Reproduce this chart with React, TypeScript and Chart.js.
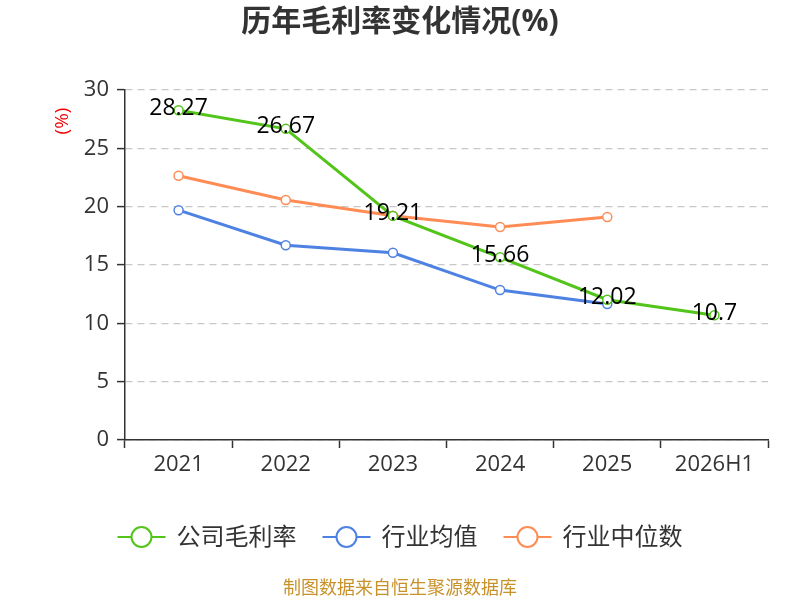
import React, { useEffect, useRef } from 'react';
import { Chart, registerables } from 'chart.js';

Chart.register(...registerables);

const categories = ['2021', '2022', '2023', '2024', '2025', '2026H1'];
const companyMargin = [28.27, 26.67, 19.21, 15.66, 12.02, 10.7];
const industryAvg = [19.7, 16.7, 16.05, 12.85, 11.65, null];
const industryMedian = [22.65, 20.57, 19.23, 18.25, 19.11, null];
const seriesNames = ['公司毛利率', '行业均值', '行业中位数'];
const yTicks = [0, 5, 10, 15, 20, 25, 30];

const FONT = '"Open Sans", "Noto Sans CJK SC", sans-serif';
const GREEN = '#52c41a';
const BLUE = '#4e82e2';
const ORANGE = '#ff8c55';

// 数值标签，只给公司毛利率
const labelPlugin = {
  id: 'valueLabels',
  afterDatasetsDraw(chart: Chart) {
    const ctx = chart.ctx;
    const meta = chart.getDatasetMeta(0);
    ctx.save();
    ctx.font = `23px ${FONT}`;
    ctx.fillStyle = '#000';
    ctx.textAlign = 'center';
    ctx.textBaseline = 'middle';
    meta.data.forEach((pt: any, i: number) => {
      const v = companyMargin[i];
      if (v == null) return;
      ctx.fillText(String(v), pt.x, pt.y - 2);
    });
    ctx.restore();
  },
};

// 标题、单位、图例、来源
const decorPlugin = {
  id: 'decor',
  afterDraw(chart: Chart) {
    const ctx = chart.ctx;
    ctx.save();
    ctx.fillStyle = '#333';
    ctx.font = `bold 30px ${FONT}`;
    ctx.textAlign = 'center';
    ctx.textBaseline = 'middle';
    ctx.fillText('历年毛利率变化情况(%)', 400, 22);

    ctx.save();
    ctx.translate(63, 121);
    ctx.rotate(-Math.PI / 2);
    ctx.fillStyle = '#e00';
    ctx.font = `19px ${FONT}`;
    ctx.fillText('(%)', 0, 0);
    ctx.restore();

    // legend
    ctx.font = `24px ${FONT}`;
    ctx.textAlign = 'left';
    const colors = [GREEN, BLUE, ORANGE];
    const symW = 48;
    const gap = 11;
    const itemGap = 26;
    const widths = seriesNames.map((n) => symW + gap + ctx.measureText(n).width);
    const total = widths.reduce((a, b) => a + b, 0) + itemGap * (widths.length - 1);
    let x = 400 - total / 2;
    const y = 537;
    seriesNames.forEach((name, i) => {
      ctx.strokeStyle = colors[i];
      ctx.lineWidth = 2;
      ctx.beginPath();
      ctx.moveTo(x, y);
      ctx.lineTo(x + symW, y);
      ctx.stroke();
      ctx.beginPath();
      ctx.arc(x + symW / 2, y, 10, 0, Math.PI * 2);
      ctx.fillStyle = '#fff';
      ctx.fill();
      ctx.stroke();
      ctx.fillStyle = '#333';
      ctx.fillText(name, x + symW + gap, y + 1);
      x += widths[i] + itemGap;
    });

    ctx.textAlign = 'center';
    ctx.fillStyle = '#c8922b';
    ctx.font = `18px ${FONT}`;
    ctx.fillText('制图数据来自恒生聚源数据库', 400, 589);
    ctx.restore();
  },
};

const App = () => {
  const canvasRef = useRef<HTMLCanvasElement>(null);
  const chartRef = useRef<Chart | null>(null);

  useEffect(() => {
    document.body.style.margin = '0';
    const el = canvasRef.current;
    if (!el) return;
    if (chartRef.current) chartRef.current.destroy();

    const mkSet = (label: string, data: (number | null)[], color: string) => ({
      label,
      data,
      borderColor: color,
      backgroundColor: '#fff',
      borderWidth: 3,
      pointRadius: 4.5,
      pointBorderWidth: 1.5,
      pointBackgroundColor: '#fff',
      pointBorderColor: color,
      tension: 0,
      spanGaps: false,
    });

    chartRef.current = new Chart(el, {
      type: 'line',
      data: {
        labels: categories,
        datasets: [
          mkSet(seriesNames[0], companyMargin, GREEN),
          mkSet(seriesNames[1], industryAvg, BLUE),
          mkSet(seriesNames[2], industryMedian, ORANGE),
        ],
      },
      options: {
        responsive: false,
        animation: false,
        layout: { padding: { top: 90, right: 32, left: 0, bottom: 0 } },
        plugins: {
          legend: { display: false },
          title: { display: false },
          tooltip: { enabled: false },
        },
        scales: {
          x: {
            offset: true,
            afterFit: (scale: any) => {
              scale.height = 160;
            },
            grid: {
              offset: true,
              drawOnChartArea: false,
              drawTicks: true,
              tickLength: 8,
              tickColor: '#333',
              tickWidth: 1.5,
            },
            border: { color: '#333', width: 1.5 },
            ticks: {
              color: '#333',
              font: { family: FONT, size: 22 },
              padding: 4,
            },
          },
          y: {
            min: 0,
            max: 30,
            afterFit: (scale: any) => {
              scale.width = 125;
            },
            afterBuildTicks: (scale: any) => {
              scale.ticks = yTicks.map((v) => ({ value: v }));
            },
            grid: {
              color: '#c8c8c8',
              lineWidth: 1.2,
              drawTicks: true,
              tickLength: 8,
              tickColor: '#333',
              tickWidth: 1.5,
              tickBorderDash: [],
            },
            border: { color: '#333', width: 1.5, dash: [7, 5] },
            ticks: {
              color: '#333',
              font: { family: FONT, size: 22 },
              padding: 8,
            },
          },
        },
      },
      plugins: [labelPlugin, decorPlugin],
    });

    return () => {
      if (chartRef.current) {
        chartRef.current.destroy();
        chartRef.current = null;
      }
    };
  }, []);

  return (
    <div style={{ width: 800, height: 600, background: '#fff' }}>
      <canvas ref={canvasRef} width={800} height={600} style={{ display: 'block', width: 800, height: 600 }}></canvas>
    </div>
  );
};

export default App;
